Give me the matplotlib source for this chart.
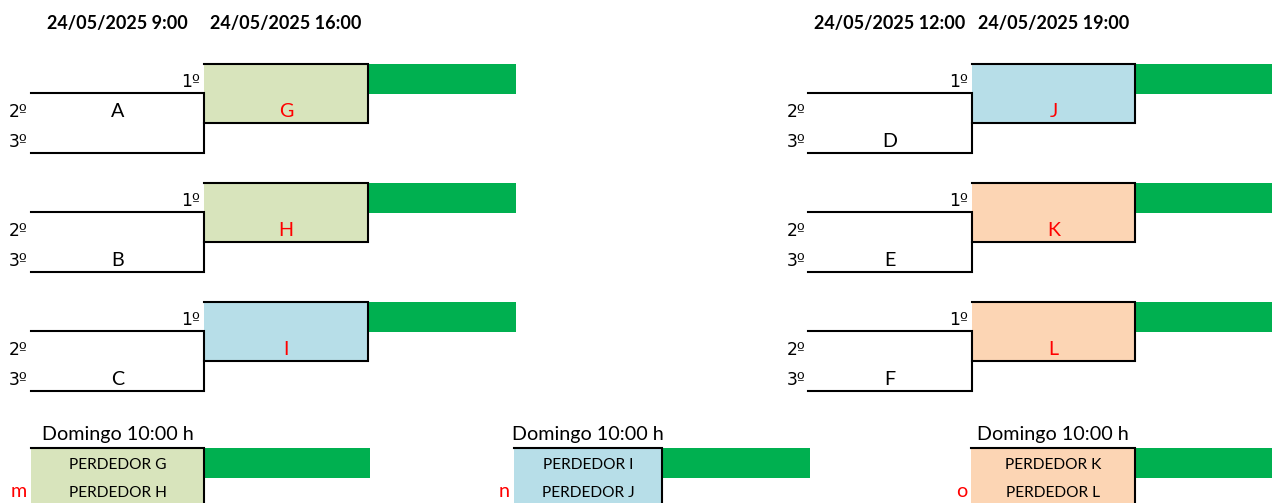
"""Tournament bracket sheet (group stage -> semis + consolation), Excel style."""

import matplotlib

matplotlib.use("Agg")
import matplotlib.pyplot as plt
from matplotlib.patches import Rectangle

# ─── data ───
dates_left = ["24/05/2025 9:00", "24/05/2025 16:00"]
dates_right = ["24/05/2025 12:00", "24/05/2025 19:00"]
groups_left = ["A", "B", "C"]
groups_right = ["D", "E", "F"]
group_row_left = [1, 2, 2]      # which row (0=1º, 1=2º, 2=3º) holds the group letter
group_row_right = [2, 2, 2]
winners_left = ["G", "H", "I"]
winners_right = ["J", "K", "L"]
places = ["1º", "2º", "3º"]
cons_keys = ["m", "n", "o"]
cons_losers = [("PERDEDOR G", "PERDEDOR H"), ("PERDEDOR I", "PERDEDOR J"), ("PERDEDOR K", "PERDEDOR L")]
cons_title = "Domingo 10:00 h"

GREEN_FILL = "#D8E4BC"
BLUE_FILL = "#B7DEE8"
PEACH_FILL = "#FCD5B4"
BAR = "#00B050"
fills_left = [GREEN_FILL, GREEN_FILL, BLUE_FILL]
fills_right = [BLUE_FILL, PEACH_FILL, PEACH_FILL]
cons_fills = [GREEN_FILL, BLUE_FILL, PEACH_FILL]

FONT = "Lato"
PLACE_FONT = "DejaVu Sans"   # underlined º like Calibri
FS = 14.2
FS_BOLD = 13
FS_SMALL = 11.2
LW = 1.5

W, H = 1272, 503
ROW = 29.75
GROUP_TOPS = [63.5, 182.5, 301.5]


def _side(ax, cols, dates, groups, group_rows, winners, fills):
    x0, x1, x2, x3 = cols
    for d, (a, b) in zip(dates, [(x0, x1), (x1, x2)]):
        ax.text((a + b) / 2, 29, d, ha="center", va="baseline", fontsize=FS_BOLD,
                fontweight="bold", family=FONT)
    for top, g, gr, w, fc in zip(GROUP_TOPS, groups, group_rows, winners, fills):
        r1, r2, r3 = top + ROW, top + 2 * ROW, top + 3 * ROW
        # winner box
        ax.add_patch(Rectangle((x1, top), x2 - x1, 2 * ROW, facecolor=fc, edgecolor="none"))
        ax.plot([x1, x2, x2, x1], [top, top, r2, r2], color="black", lw=LW,
                solid_joinstyle="miter")
        ax.add_patch(Rectangle((x2 + 1, top), x3 - x2 - 1, ROW + 1, facecolor=BAR, edgecolor="none"))
        # group bracket
        ax.plot([x0, x1, x1, x0], [r1, r1, r3, r3], color="black", lw=LW,
                solid_joinstyle="miter")
        for i, p in enumerate(places):
            bottom = top + (i + 1) * ROW - 6
            xr = x1 - 4 if i == 0 else x0 - 3
            ax.text(xr, bottom, p, ha="right", va="baseline", fontsize=12.3, family=PLACE_FONT)
        ax.text((x0 + x1) / 2, top + (gr + 1) * ROW - 6, g, ha="center", va="baseline",
                fontsize=FS, family=FONT)
        ax.text((x1 + x2) / 2, top + 2 * ROW - 6, w, ha="center", va="baseline",
                fontsize=FS, family=FONT, color="red")


def main() -> None:
    fig = plt.figure(figsize=(W / 100, H / 100), dpi=100)
    ax = fig.add_axes([0, 0, 1, 1])
    ax.set_xlim(0, W)
    ax.set_ylim(H, 0)
    ax.axis("off")

    _side(ax, (31, 204, 368, 516), dates_left, groups_left, group_row_left, winners_left, fills_left)
    _side(ax, (808, 972, 1135, 1272), dates_right, groups_right, group_row_right, winners_right, fills_right)

    # ─── consolation matches ───
    cons_cols = [(31, 204, 370), (514, 662, 810), (971, 1135, 1272)]
    top = 448
    for (a, b, c), key, (l1, l2), fc in zip(cons_cols, cons_keys, cons_losers, cons_fills):
        ax.add_patch(Rectangle((a, top), b - a, 60, facecolor=fc, edgecolor="none"))
        ax.plot([a, b, b], [top, top, H + 5], color="black", lw=LW, solid_joinstyle="miter")
        ax.add_patch(Rectangle((b + 1, top), c - b - 1, 30, facecolor=BAR, edgecolor="none"))
        ax.text((a + b) / 2, 440, cons_title, ha="center", va="baseline", fontsize=FS, family=FONT)
        ax.text((a + b) / 2, 469, l1, ha="center", va="baseline", fontsize=FS_SMALL, family=FONT)
        ax.text((a + b) / 2, 497, l2, ha="center", va="baseline", fontsize=FS_SMALL, family=FONT)
        ax.text(a - 4, 497, key, ha="right", va="baseline", fontsize=FS, family=FONT, color="red")

    fig.savefig("out.png", dpi=100)


if __name__ == "__main__":
    main()
